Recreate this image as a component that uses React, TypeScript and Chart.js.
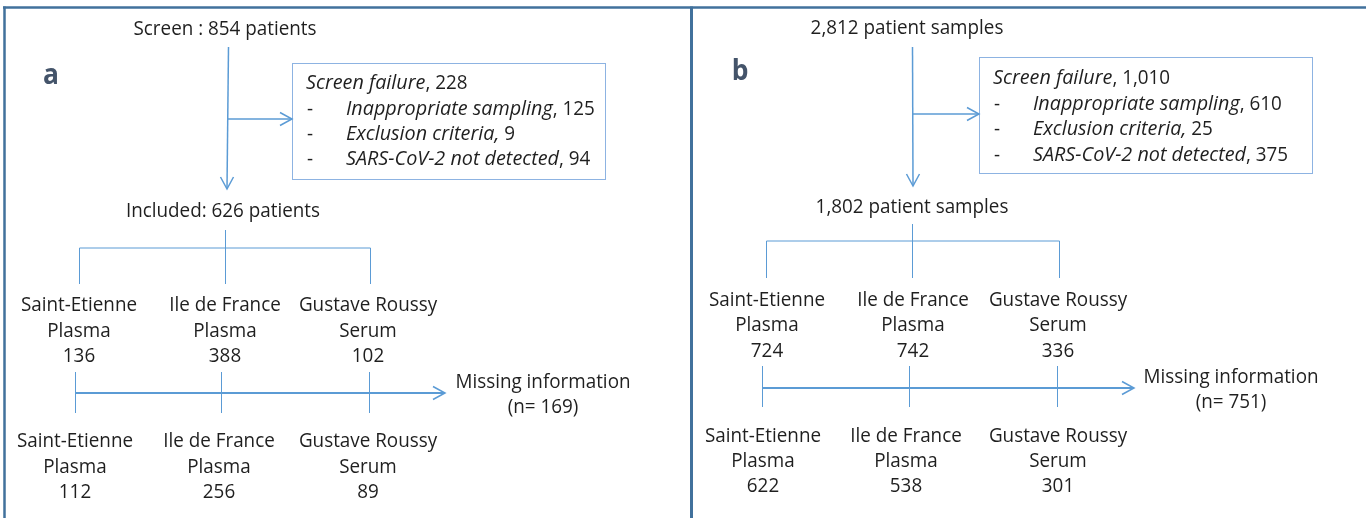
import React, { useEffect, useRef } from "react";
import { Chart, registerables } from "chart.js";

Chart.register(...registerables);

// ---------- DATA ----------
const panelLetters = ["a", "b"];
const screenedLabels = ["Screen : 854 patients", "2,812 patient samples"];
const failureTotals = ["228", "1,010"];
const inappropriateCounts = ["125", "610"];
const exclusionCounts = ["9", "25"];
const notDetectedCounts = ["94", "375"];
const includedLabels = ["Included: 626 patients", "1,802 patient samples"];
const sites = ["Saint-Etienne", "Ile de France", "Gustave Roussy"];
const matrices = ["Plasma", "Plasma", "Serum"];
const includedCounts = [
  [136, 388, 102],
  [724, 742, 336],
];
const missingCounts = ["169", "751"];
const analysedCounts = [
  [112, 256, 89],
  [622, 538, 301],
];

// ---------- LAYOUT (diagram coordinates, page pixels) ----------
const W = 1366;
const H = 518;
const layouts = [
  {
    letter: [51, 84], top: [225, 35], vx: [228.5, 227], vTop: 47, vTip: 189, branchY: 119,
    box: [292, 63, 313, 116], textX: 306, indentX: 346, boxBase: [89, 115, 140, 165],
    incl: [223, 217], treeTop: 230, treeY: 248, treeBot: 284, treeX: [79.5, 225.5, 370.5],
    labelX: [79, 225, 368], labelBase: [311, 337, 362],
    missX: [75.5, 221.5, 369.5], missTop: 372, missBot: 413, missY: 393, missTip: 445,
    missTextX: 543, missBase: [388, 413], botX: [75, 219, 368], botBase: [447, 473, 498],
  },
  {
    letter: [740, 80], top: [907, 34], vx: [912.5, 913], vTop: 47, vTip: 186, branchY: 114,
    box: [979, 57, 333, 116], textX: 993, indentX: 1033, boxBase: [84, 110, 135, 161],
    incl: [912, 213], treeTop: 224, treeY: 241, treeBot: 278, treeX: [766.5, 912.5, 1059.5],
    labelX: [767, 913, 1058], labelBase: [306, 331, 357],
    missX: [762.5, 909.5, 1057.5], missTop: 366, missBot: 407, missY: 388, missTip: 1134,
    missTextX: 1231, missBase: [383, 408], botX: [763, 906, 1058], botBase: [442, 467, 492],
  },
];

const LINE = "#5B9BD5";
const FRAME = "#41719C";
const TEXT = "#1F1F1F";
const FONT = '"Open Sans", "Noto Sans", sans-serif';
const FS = 20;

type Seg = { pts: { x: number; y: number }[]; w: number; c: string };

function buildSegments(): Seg[] {
  const segs: Seg[] = [];
  const add = (x1: number, y1: number, x2: number, y2: number, w: number, c = LINE) =>
    segs.push({ pts: [{ x: x1, y: y1 }, { x: x2, y: y2 }], w, c });
  // frame
  add(3, 7.5, W, 7.5, 2.5, FRAME);
  add(4.5, 6.5, 4.5, H, 2.5, FRAME);
  add(691.5, 6.5, 691.5, H, 3, FRAME);
  layouts.forEach((L) => {
    add(L.vx[0], L.vTop, L.vx[1], L.vTip - 1, 1.5);
    add(L.vx[0] + (L.vx[1] - L.vx[0]) * ((L.branchY - L.vTop) / (L.vTip - L.vTop)), L.branchY, L.box[0] - 1, L.branchY, 1.5);
    add(L.treeX[1], L.treeTop, L.treeX[1], L.treeY, 1);
    add(L.treeX[0], L.treeY, L.treeX[2], L.treeY, 1);
    L.treeX.forEach((x) => add(x, L.treeY, x, L.treeBot, 1));
    L.missX.forEach((x) => add(x, L.missTop, x, L.missBot, 1));
    add(L.missX[0], L.missY, L.missTip - 1, L.missY, 2);
  });
  return segs;
}

const overlayPlugin = {
  id: "flowOverlay",
  afterDatasetsDraw(chart: any) {
    const ctx: CanvasRenderingContext2D = chart.ctx;
    const xs = chart.scales.x;
    const ys = chart.scales.y;
    const px = (v: number) => xs.getPixelForValue(v);
    const py = (v: number) => ys.getPixelForValue(v);
    const squeeze = (() => {
      ctx.save();
      ctx.font = `${FS}px ${FONT}`;
      const m = ctx.measureText(screenedLabels[0]).width;
      ctx.restore();
      return 183 / m;
    })();

    const text = (s: string, x: number, y: number, align: "left" | "center", opts: { italic?: boolean; bold?: boolean; size?: number; color?: string } = {}) => {
      ctx.save();
      const size = opts.size ?? FS;
      ctx.font = `${opts.italic ? "italic " : ""}${opts.bold ? "bold " : ""}${size}px ${FONT}`;
      ctx.fillStyle = opts.color ?? TEXT;
      ctx.textBaseline = "alphabetic";
      const sq = opts.italic ? squeeze * 1.05 : squeeze;
      const w = ctx.measureText(s).width * sq;
      const X = px(x);
      const left = align === "center" ? X - w / 2 : X;
      ctx.translate(left, py(y));
      ctx.scale(sq, 1);
      ctx.textAlign = "left";
      ctx.fillText(s, 0, 0);
      ctx.restore();
      return w;
    };
    const mixed = (parts: { s: string; italic?: boolean }[], x: number, y: number) => {
      let cx = x;
      parts.forEach((p) => {
        const w = text(p.s, cx, y, "left", { italic: p.italic });
        cx += w;
      });
    };
    const arrowHead = (x: number, y: number, dir: "down" | "right") => {
      ctx.save();
      ctx.strokeStyle = LINE;
      ctx.lineWidth = 1.5;
      ctx.beginPath();
      if (dir === "down") {
        ctx.moveTo(px(x - 6.5), py(y - 12));
        ctx.lineTo(px(x), py(y));
        ctx.lineTo(px(x + 6.5), py(y - 12));
      } else {
        ctx.moveTo(px(x - 12), py(y - 6.5));
        ctx.lineTo(px(x), py(y));
        ctx.lineTo(px(x - 12), py(y + 6.5));
      }
      ctx.stroke();
      ctx.restore();
    };

    layouts.forEach((L, i) => {
      // letter
      text(panelLetters[i], L.letter[0], L.letter[1], "center", { bold: true, size: 28, color: "#44546A" });
      text(screenedLabels[i], L.top[0], L.top[1], "center");
      // box
      ctx.save();
      ctx.strokeStyle = "#8DB3E2";
      ctx.lineWidth = 1;
      ctx.strokeRect(px(L.box[0]) + 0.5, py(L.box[1]) + 0.5, L.box[2], L.box[3]);
      ctx.restore();
      mixed([{ s: "Screen failure", italic: true }, { s: ", " + failureTotals[i] }], L.textX, L.boxBase[0]);
      const rows = [
        [{ s: "Inappropriate sampling", italic: true }, { s: ", " + inappropriateCounts[i] }],
        [{ s: "Exclusion criteria,", italic: true }, { s: " " + exclusionCounts[i] }],
        [{ s: "SARS-CoV-2 not detected", italic: true }, { s: ", " + notDetectedCounts[i] }],
      ];
      rows.forEach((r, k) => {
        text("-", L.textX + 1, L.boxBase[k + 1], "left");
        mixed(r, L.indentX, L.boxBase[k + 1]);
      });
      arrowHead(L.vx[1], L.vTip, "down");
      arrowHead(L.box[0], L.branchY, "right");
      arrowHead(L.missTip, L.missY, "right");
      text(includedLabels[i], L.incl[0], L.incl[1], "center");
      sites.forEach((site, k) => {
        text(site, L.labelX[k], L.labelBase[0], "center");
        text(matrices[k], L.labelX[k], L.labelBase[1], "center");
        text(String(includedCounts[i][k]), L.labelX[k], L.labelBase[2], "center");
        text(site, L.botX[k], L.botBase[0], "center");
        text(matrices[k], L.botX[k], L.botBase[1], "center");
        text(String(analysedCounts[i][k]), L.botX[k], L.botBase[2], "center");
      });
      text("Missing information", L.missTextX, L.missBase[0], "center");
      text(`(n= ${missingCounts[i]})`, L.missTextX, L.missBase[1], "center");
    });
  },
};

export default function App() {
  const ref = useRef<HTMLCanvasElement | null>(null);
  useEffect(() => {
    document.body.style.margin = "0";
    const canvas = ref.current!;
    const segs = buildSegments();
    const chart = new Chart(canvas, {
      type: "scatter",
      data: {
        datasets: segs.map((s) => ({
          data: s.pts,
          showLine: true,
          borderColor: s.c,
          backgroundColor: s.c,
          borderWidth: s.w,
          pointRadius: 0,
          pointHoverRadius: 0,
          fill: false,
        })),
      },
      options: {
        animation: false,
        responsive: false,
        devicePixelRatio: 1,
        layout: { padding: 0 },
        plugins: { legend: { display: false }, tooltip: { enabled: false } },
        events: [],
        scales: {
          x: { type: "linear", min: 0, max: W, display: false },
          y: { type: "linear", min: 0, max: H, reverse: true, display: false },
        },
      },
      plugins: [overlayPlugin],
    });
    return () => chart.destroy();
  }, []);
  return (
    <div style={{ position: "fixed", left: 0, top: 0, width: W, height: H, background: "#fff" }}>
      <canvas ref={ref} width={W} height={H} style={{ width: W, height: H, display: "block" }} />
    </div>
  );
}
